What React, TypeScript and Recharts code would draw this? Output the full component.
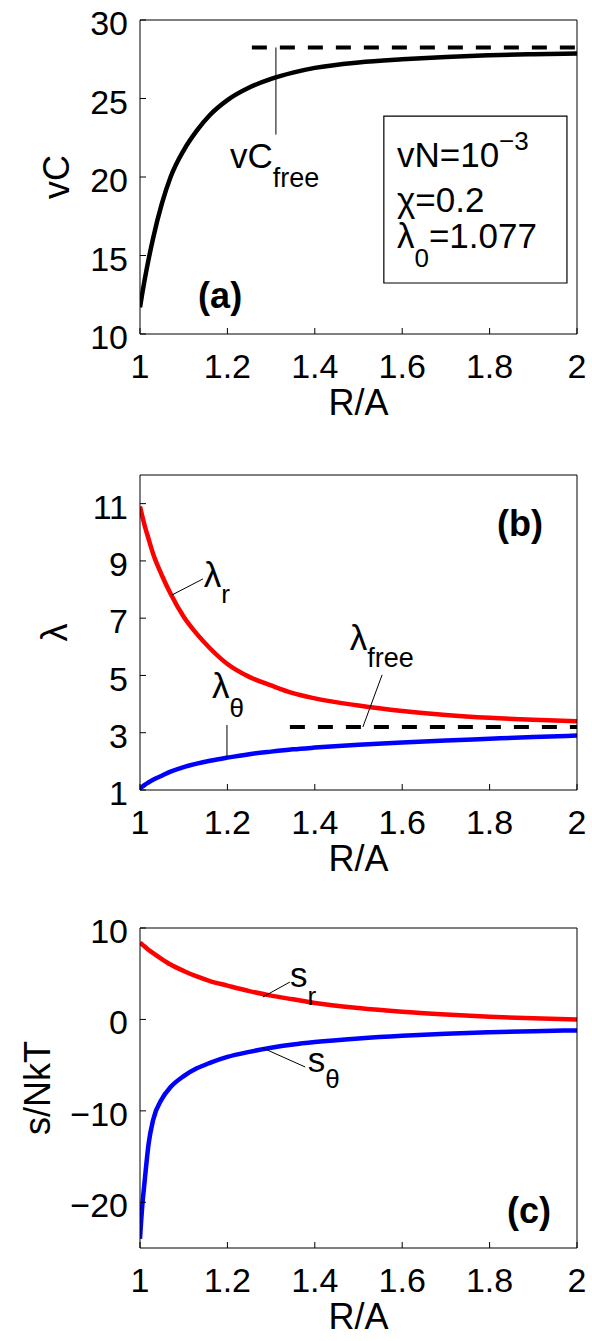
import React from 'react'
import {
  LineChart,
  Line,
  XAxis,
  YAxis,
  ReferenceLine,
  ReferenceArea,
  ReferenceDot,
} from 'recharts'

// R/A samples shared by every curve
const rA = [1, 1.005, 1.01, 1.02, 1.03, 1.05, 1.07, 1.1, 1.13, 1.16, 1.2, 1.25, 1.3, 1.35, 1.4, 1.5, 1.6, 1.7, 1.8, 1.9, 2]

// (a) vC
const vC = [11.7, 12.55, 13.35, 14.8, 16.1, 18.3, 20.0, 21.7, 22.95, 23.95, 24.9, 25.7, 26.25, 26.65, 26.95, 27.3, 27.5, 27.65, 27.75, 27.82, 27.87]
const vCfree = 28.25

// (b) stretches
const lamR = [10.9, 10.58, 10.27, 9.75, 9.25, 8.5, 7.85, 7.05, 6.45, 5.95, 5.4, 4.95, 4.65, 4.38, 4.2, 3.95, 3.76, 3.62, 3.52, 3.45, 3.4]
const lamT = [1.05, 1.11, 1.17, 1.27, 1.36, 1.5, 1.64, 1.8, 1.92, 2.02, 2.13, 2.25, 2.34, 2.42, 2.48, 2.58, 2.66, 2.73, 2.79, 2.85, 2.9]
const lamFree = 3.2

// (c) stresses
const sR = [8.4, 8.2, 8.0, 7.6, 7.25, 6.6, 6.0, 5.3, 4.7, 4.2, 3.7, 3.1, 2.6, 2.2, 1.8, 1.25, 0.85, 0.55, 0.3, 0.12, 0]
const sT = [-24, -20.5, -18.0, -13.5, -11.0, -8.7, -7.4, -6.2, -5.35, -4.75, -4.1, -3.55, -3.1, -2.75, -2.48, -2.08, -1.78, -1.56, -1.4, -1.28, -1.2]

const xTicks = [1, 1.2, 1.4, 1.6, 1.8, 2]
const yTicksA = [10, 15, 20, 25, 30]
const yTicksB = [1, 3, 5, 7, 9, 11]
const yTicksC = [-20, -10, 0, 10]

const data = rA.map((r, i) => ({
  r,
  vc: vC[i],
  lr: lamR[i],
  lt: lamT[i],
  sr: sR[i],
  st: sT[i],
}))

const FONT = '"Liberation Sans", Arial, Helvetica, sans-serif'
const RED = '#ff0000'
const BLUE = '#0000ff'
const minus = (v: number) => String(v).replace('-', '\u2212')

// render arbitrary svg at a data anchor
const at = (children: React.ReactNode) => (props: any) => {
  const vb = props.viewBox || {}
  return <g transform={`translate(${vb.x},${vb.y})`}>{children}</g>
}

const xLabel = (props: any) => {
  const { x, y, width } = props.viewBox
  return (
    <text x={x + width / 2} y={y + 81} textAnchor="middle" fontSize={36} fill="#000">
      R/A
    </text>
  )
}

const yLabel = (text: string, bx: number) => (props: any) => {
  const { y, height } = props.viewBox
  const cy = y + height / 2
  return (
    <text x={bx} y={cy} transform={`rotate(-90 ${bx} ${cy})`} textAnchor="middle" fontSize={36} fill="#000">
      {text}
    </text>
  )
}

function Frame({ domain, ticks, fmt, label }: any) {
  return [
    <XAxis key="xb" xAxisId="b" type="number" dataKey="r" domain={[1, 2]} ticks={xTicks} allowDataOverflow
      orientation="bottom" height={90} tickSize={-6} tickMargin={26} interval={0}
      axisLine={{ stroke: '#000' }} tickLine={{ stroke: '#000' }}
      tick={{ fill: '#000', fontSize: 34 }} label={xLabel} />,
    <XAxis key="xt" xAxisId="t" type="number" dataKey="r" domain={[1, 2]} ticks={xTicks} allowDataOverflow
      orientation="top" height={1} tickSize={-6} tick={false} interval={0}
      axisLine={{ stroke: '#000' }} tickLine={{ stroke: '#000' }} />,
    <YAxis key="yl" yAxisId="l" type="number" domain={domain} ticks={ticks} allowDataOverflow
      orientation="left" width={140} tickSize={-6} tickMargin={18} interval={0}
      axisLine={{ stroke: '#000' }} tickLine={{ stroke: '#000' }}
      tick={{ fill: '#000', fontSize: 34, dy: 3 }} tickFormatter={fmt} label={label} />,
    <YAxis key="yr" yAxisId="r" type="number" domain={domain} ticks={ticks} allowDataOverflow
      orientation="right" width={1} tickSize={-6} tick={false} interval={0}
      axisLine={{ stroke: '#000' }} tickLine={{ stroke: '#000' }} />,
  ]
}

const lead = { xAxisId: 'b', yAxisId: 'l', stroke: '#000', strokeWidth: 1, ifOverflow: 'visible' as const }
const anchor = { xAxisId: 'b', yAxisId: 'l', r: 0, fill: 'none', stroke: 'none', ifOverflow: 'visible' as const }
const SUB = 26

export default function App() {
  return (
    <div style={{ position: 'absolute', left: 0, top: 0, width: 592, height: 1341, background: '#fff', fontFamily: FONT }}>
      {/* (a) */}
      <div style={{ position: 'absolute', left: 0, top: 0 }}>
        <LineChart width={592} height={430} data={data} margin={{ top: 19, right: 14, bottom: 6, left: 0 }}>
          {Frame({ domain: [10, 30], ticks: yTicksA, label: yLabel('vC', 69) })}
          <ReferenceLine {...lead} segment={[{ x: 1.256, y: vCfree }, { x: 2, y: vCfree }]} strokeWidth={4} strokeDasharray="15 13" />
          <ReferenceLine {...lead} segment={[{ x: 1.311, y: vCfree }, { x: 1.311, y: 22.7 }]} />
          <Line xAxisId="b" yAxisId="l" dataKey="vc" type="monotone" stroke="#000" strokeWidth={4.5} dot={false} isAnimationActive={false} />
          <ReferenceArea xAxisId="b" yAxisId="l" x1={1.558} x2={1.977} y1={13.25} y2={23.88} fill="#fff" fillOpacity={1} stroke="#000" strokeWidth={1.2} />
          <ReferenceDot {...anchor} x={1.206} y={20.57} label={at(
            <text fontSize={35} fill="#000">vC<tspan fontSize={27} dy={19}>free</tspan></text>
          )} />
          <ReferenceDot {...anchor} x={1.588} y={20.64} label={at(
            <g fill="#000" fontSize={35}>
              <text x={0} y={0}>vN=10<tspan fontSize={SUB} dy={-17}>{'\u22123'}</tspan></text>
              <text x={0} y={45}>{'\u03c7=0.2'}</text>
              <text x={0} y={81}>{'\u03bb'}<tspan fontSize={SUB} dy={19}>0</tspan><tspan dy={-19}>=1.077</tspan></text>
            </g>
          )} />
          <ReferenceDot {...anchor} x={1.133} y={11.66} label={at(
            <text fontSize={36} fontWeight="bold" fill="#000">(a)</text>
          )} />
        </LineChart>
      </div>

      {/* (b) */}
      <div style={{ position: 'absolute', left: 0, top: 455 }}>
        <LineChart width={592} height={430} data={data} margin={{ top: 19, right: 14, bottom: 5, left: 0 }}>
          {Frame({ domain: [1, 12], ticks: yTicksB, label: yLabel('\u03bb', 67) })}
          <ReferenceLine {...lead} segment={[{ x: 1.343, y: lamFree }, { x: 2, y: lamFree }]} strokeWidth={4} strokeDasharray="15 13" />
          <Line xAxisId="b" yAxisId="l" dataKey="lr" type="monotone" stroke={RED} strokeWidth={4.5} dot={false} isAnimationActive={false} />
          <Line xAxisId="b" yAxisId="l" dataKey="lt" type="monotone" stroke={BLUE} strokeWidth={4.5} dot={false} isAnimationActive={false} />
          <ReferenceLine {...lead} segment={[{ x: 1.073, y: 7.81 }, { x: 1.144, y: 8.37 }]} />
          <ReferenceLine {...lead} segment={[{ x: 1.199, y: 3.27 }, { x: 1.199, y: 2.15 }]} />
          <ReferenceLine {...lead} segment={[{ x: 1.51, y: lamFree }, { x: 1.554, y: 5.02 }]} />
          <ReferenceDot {...anchor} x={1.146} y={8.09} label={at(
            <text fontSize={35} fill="#000">{'\u03bb'}<tspan fontSize={SUB} dy={16}>r</tspan></text>
          )} />
          <ReferenceDot {...anchor} x={1.165} y={4.21} label={at(
            <text fontSize={35} fill="#000">{'\u03bb'}<tspan fontSize={SUB} dy={19}>{'\u03b8'}</tspan></text>
          )} />
          <ReferenceDot {...anchor} x={1.48} y={5.89} label={at(
            <text fontSize={35} fill="#000">{'\u03bb'}<tspan fontSize={27} dy={17}>free</tspan></text>
          )} />
          <ReferenceDot {...anchor} x={1.817} y={9.87} label={at(
            <text fontSize={36} fontWeight="bold" fill="#000">(b)</text>
          )} />
        </LineChart>
      </div>

      {/* (c) */}
      <div style={{ position: 'absolute', left: 0, top: 908 }}>
        <LineChart width={592} height={433} data={data} margin={{ top: 19, right: 14, bottom: 3, left: 0 }}>
          {Frame({ domain: [-25, 10], ticks: yTicksC, fmt: minus, label: yLabel('s/NkT', 50) })}
          <Line xAxisId="b" yAxisId="l" dataKey="sr" type="monotone" stroke={RED} strokeWidth={4.5} dot={false} isAnimationActive={false} />
          <Line xAxisId="b" yAxisId="l" dataKey="st" type="monotone" stroke={BLUE} strokeWidth={4.5} dot={false} isAnimationActive={false} />
          <ReferenceLine {...lead} segment={[{ x: 1.281, y: 2.45 }, { x: 1.343, y: 4.09 }]} />
          <ReferenceLine {...lead} segment={[{ x: 1.281, y: -3.13 }, { x: 1.378, y: -5.2 }]} />
          <ReferenceDot {...anchor} x={1.343} y={3.54} label={at(
            <text fontSize={35} fill="#000">s<tspan fontSize={SUB} dy={18}>r</tspan></text>
          )} />
          <ReferenceDot {...anchor} x={1.384} y={-5.75} label={at(
            <text fontSize={35} fill="#000">s<tspan fontSize={SUB} dy={16}>{'\u03b8'}</tspan></text>
          )} />
          <ReferenceDot {...anchor} x={1.84} y={-22.27} label={at(
            <text fontSize={36} fontWeight="bold" fill="#000">(c)</text>
          )} />
        </LineChart>
      </div>
    </div>
  )
}
